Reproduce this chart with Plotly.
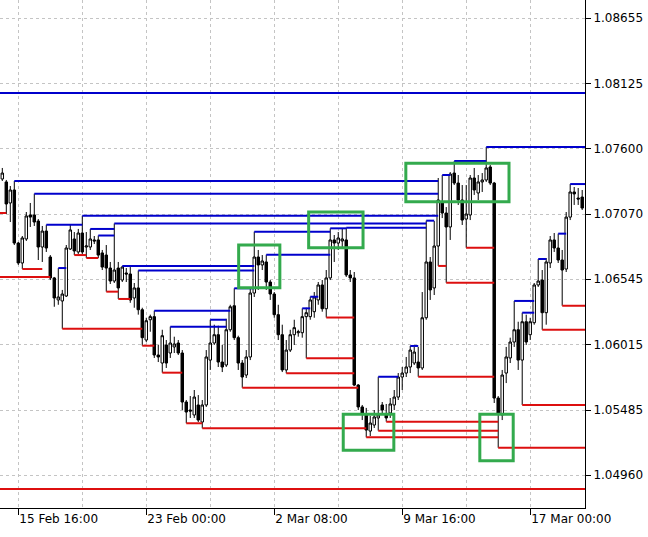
import plotly.graph_objects as go

# ---------------- candle data (H4 bars, index 0..145) ----------------
bars = list(range(146))
opens = [1.07354,1.07330,1.07160,1.07265,1.06836,1.06675,1.06869,1.07063,1.07063,1.07014,
         1.06804,1.06933,1.06723,1.06554,1.06376,1.06368,1.06408,1.06788,1.06869,1.06764,
         1.06917,1.06804,1.06804,1.06861,1.06861,1.06756,1.06739,1.06634,1.06529,1.06634,
         1.06537,1.06594,1.06586,1.06392,1.06473,1.06297,1.06052,1.06216,1.06241,1.05931,
         1.05866,1.06012,1.05947,1.05996,1.06028,1.05947,1.05551,1.05486,1.05446,1.05527,
         1.05389,1.05527,1.05890,1.06028,1.06095,1.05874,1.05850,1.06135,1.06329,1.06071,
         1.05866,1.05769,1.05915,1.06432,1.06723,1.06659,1.06683,1.06521,1.06424,1.06257,
         1.06095,1.05810,1.05971,1.06095,1.06111,1.06111,1.06241,1.06241,1.06281,1.06376,
         1.06497,1.06305,1.06554,1.06861,1.06836,1.06853,1.06861,1.06578,1.06554,1.05688,
         1.05511,1.05446,1.05316,1.05365,1.05422,1.05527,1.05454,1.05462,1.05527,1.05591,
         1.05753,1.05785,1.05834,1.05866,1.05874,1.05826,1.06232,1.06683,1.06473,1.06812,
         1.07168,1.07079,1.06966,1.07402,1.07321,1.07184,1.07030,1.07063,1.07362,1.07241,
         1.07330,1.07346,1.07451,1.07321,1.05583,1.05446,1.05785,1.05907,1.06036,1.06135,
         1.05890,1.06200,1.06095,1.06192,1.06497,1.06537,1.06273,1.06675,1.06861,1.06796,
         1.06699,1.06626,1.07046,1.07249,1.07200,1.07208]
highs = [1.07443,1.07346,1.07297,1.07338,1.06845,1.06893,1.07087,1.07160,1.07235,1.07030,
         1.06974,1.06984,1.06739,1.06562,1.06634,1.06457,1.06820,1.06982,1.06925,1.06950,
         1.07057,1.06925,1.06950,1.06893,1.06897,1.06780,1.06820,1.06683,1.06994,1.06683,
         1.06651,1.06634,1.06642,1.06513,1.06614,1.06313,1.06232,1.06257,1.06289,1.06012,
         1.06135,1.06052,1.06160,1.06079,1.06052,1.05971,1.05567,1.05599,1.05648,1.05607,
         1.05567,1.05971,1.06216,1.06176,1.06168,1.06012,1.06224,1.06337,1.06470,1.06087,
         1.05890,1.05971,1.06473,1.06928,1.06780,1.06739,1.06742,1.06537,1.06440,1.06337,
         1.06176,1.06052,1.06135,1.06216,1.06135,1.06308,1.06313,1.06402,1.06440,1.06521,
         1.06537,1.06618,1.06955,1.06901,1.06925,1.06950,1.06960,1.06618,1.06602,1.05696,
         1.05527,1.05503,1.05438,1.05486,1.05755,1.05551,1.05535,1.05583,1.05648,1.05785,
         1.05834,1.05915,1.06004,1.05996,1.05996,1.06440,1.07017,1.06723,1.07014,1.07362,
         1.07386,1.07127,1.07410,1.07499,1.07386,1.07305,1.07305,1.07386,1.07443,1.07386,
         1.07402,1.07613,1.07467,1.07330,1.05599,1.05810,1.05996,1.06071,1.06368,1.06200,
         1.06273,1.06257,1.06232,1.06513,1.06707,1.06618,1.06715,1.06893,1.06917,1.06912,
         1.06780,1.07087,1.07313,1.07289,1.07281,1.07265]
lows = [1.07338,1.07071,1.07006,1.06820,1.06659,1.06626,1.06853,1.06966,1.06974,1.06699,
        1.06683,1.06764,1.06537,1.06321,1.06337,1.06143,1.06400,1.06780,1.06739,1.06748,
        1.06748,1.06715,1.06780,1.06828,1.06715,1.06618,1.06443,1.06505,1.06513,1.06384,
        1.06521,1.06521,1.06353,1.06313,1.06257,1.06006,1.06036,1.06119,1.05907,1.05874,
        1.05788,1.05826,1.05907,1.05947,1.05931,1.05486,1.05379,1.05422,1.05422,1.05389,
        1.05338,1.05511,1.05810,1.06012,1.05834,1.05793,1.05834,1.06119,1.06052,1.05810,
        1.05666,1.05745,1.05890,1.06400,1.06457,1.06618,1.06457,1.06376,1.06232,1.06052,
        1.05793,1.05783,1.05955,1.06012,1.06079,1.06071,1.05904,1.06216,1.06232,1.06337,
        1.06281,1.06234,1.06537,1.06683,1.06780,1.06788,1.06562,1.06521,1.05680,1.05486,
        1.05405,1.05265,1.05276,1.05341,1.05319,1.05454,1.05392,1.05422,1.05486,1.05567,
        1.05648,1.05753,1.05785,1.05850,1.05755,1.05810,1.06216,1.06376,1.06416,1.06651,
        1.07038,1.06515,1.06861,1.07305,1.07144,1.06982,1.06798,1.07022,1.07225,1.07184,
        1.07249,1.07330,1.07305,1.05543,1.05181,1.05405,1.05704,1.05866,1.05996,1.05810,
        1.05527,1.06012,1.06052,1.06176,1.06481,1.06135,1.06176,1.06634,1.06764,1.06675,
        1.06329,1.06602,1.07022,1.07144,1.07144,1.07103]
closes = [1.07402,1.07152,1.07265,1.06836,1.06675,1.06877,1.07055,1.07046,1.07006,1.06804,
          1.06933,1.06796,1.06554,1.06392,1.06400,1.06424,1.06796,1.06942,1.06772,1.06917,
          1.06764,1.06812,1.06869,1.06853,1.06739,1.06642,1.06634,1.06529,1.06618,1.06473,
          1.06642,1.06586,1.06376,1.06473,1.06297,1.06071,1.06208,1.06241,1.05931,1.05915,
          1.06087,1.05866,1.06028,1.06020,1.05947,1.05551,1.05470,1.05478,1.05591,1.05405,
          1.05527,1.05915,1.06028,1.06095,1.05874,1.05834,1.06135,1.06321,1.06071,1.05866,
          1.05753,1.05915,1.06432,1.06723,1.06659,1.06691,1.06521,1.06424,1.06257,1.06095,
          1.05810,1.05971,1.06095,1.06152,1.06119,1.06241,1.06273,1.06376,1.06400,1.06497,
          1.06305,1.06554,1.06861,1.06836,1.06877,1.06869,1.06578,1.06554,1.05688,1.05511,
          1.05462,1.05324,1.05381,1.05430,1.05446,1.05486,1.05422,1.05535,1.05591,1.05753,
          1.05785,1.05834,1.05971,1.05955,1.05826,1.06232,1.06683,1.06457,1.06812,1.07184,
          1.07079,1.06966,1.07394,1.07321,1.07184,1.07022,1.07071,1.07362,1.07265,1.07330,
          1.07346,1.07443,1.07321,1.05583,1.05462,1.05769,1.05915,1.06036,1.06135,1.05890,
          1.06200,1.06036,1.06200,1.06497,1.06529,1.06273,1.06683,1.06861,1.06796,1.06699,
          1.06618,1.07046,1.07249,1.07233,1.07192,1.07119]

# ---------------- resistance (blue) and support (red) levels ----------------
blue_level = [1.08049,1.07338,1.07235,1.07057,1.06984,1.06950,1.06897,1.06994,1.06651,1.06614,
              1.06634,1.06289,1.06160,1.06216,1.06470,1.06928,1.06742,1.06308,1.06402,1.06955,
              1.06960,1.07017,1.07386,1.07499,1.07613,1.05755,1.06004,1.06368,1.06273,1.06707,
              1.06912,1.07313]
blue_from = [-1,3,8,20,11,22,24,28,30,34,14,38,42,52,58,63,66,75,77,82,86,106,110,113,121,94,102,128,130,134,139,142]
blue_to   = [146,109,109,109,20,28,28,106,63,63,16,57,56,56,63,82,82,77,79,86,106,108,112,121,146,99,104,133,133,136,141,146]

red_level = [1.04847,1.07079,1.06562,1.06626,1.06143,1.06739,1.06715,1.06443,1.06384,1.06006,
             1.05788,1.05379,1.05338,1.05666,1.05783,1.05904,1.06234,1.05265,1.05319,1.05392,
             1.05755,1.06651,1.06515,1.06798,1.05181,1.05527,1.06135,1.06329]
red_from = [-1,-1,-1,5,15,18,21,26,29,35,40,46,50,60,71,76,81,91,94,96,104,109,111,116,124,130,135,140]
red_to   = [146,1,12,10,35,21,24,29,32,38,45,50,91,89,88,88,88,124,124,124,123,111,123,123,146,146,146,146]

# ---------------- highlighted zones ----------------
zone_from = [100.9, 76.6, 59.1, 85.25, 119.4]
zone_to   = [126.7, 90.2, 69.4, 97.9, 127.75]
zone_top  = [1.07481, 1.07087, 1.06820, 1.05451, 1.05451]
zone_bot  = [1.07170, 1.06798, 1.06475, 1.05160, 1.05076]

# ---------------- axis ticks ----------------
price_ticks = [1.08655, 1.08125, 1.07600, 1.07070, 1.06545, 1.06015, 1.05485, 1.04960]
price_labels = ["1.08655", "1.08125", "1.07600", "1.07070", "1.06545", "1.06015", "1.05485", "1.04960"]
time_tick_bars = [4, 36, 68, 100, 132]
time_labels = ["15 Feb 16:00", "23 Feb 00:00", "2 Mar 08:00", "9 Mar 16:00", "17 Mar 00:00"]
minor_grid_bars = [20, 52, 84, 116]


def segments(levels, starts, ends):
    xs, ys = [], []
    for lv, s, e in zip(levels, starts, ends):
        xs += [s, e, None]
        ys += [lv, lv, None]
    return xs, ys


fig = go.Figure()

bx, by = segments(blue_level, blue_from, blue_to)
rx, ry = segments(red_level, red_from, red_to)
fig.add_trace(go.Scatter(x=bx, y=by, mode="lines", line=dict(color="#0000cc", width=2),
                         hoverinfo="skip", showlegend=False))
fig.add_trace(go.Scatter(x=rx, y=ry, mode="lines", line=dict(color="#dd0f0f", width=2),
                         hoverinfo="skip", showlegend=False))

fig.add_trace(go.Candlestick(
    x=bars, open=opens, high=highs, low=lows, close=closes,
    increasing=dict(line=dict(color="black", width=1), fillcolor="white"),
    decreasing=dict(line=dict(color="black", width=1), fillcolor="black"),
    whiskerwidth=0, showlegend=False, hoverinfo="skip"))

for x0, x1, y0, y1 in zip(zone_from, zone_to, zone_top, zone_bot):
    fig.add_shape(type="rect", xref="x", yref="y", x0=x0, x1=x1, y0=y0, y1=y1,
                  line=dict(color="#33aa4d", width=3), fillcolor="rgba(0,0,0,0)")

fig.update_layout(
    width=648, height=537,
    margin=dict(l=0, r=63, t=0, b=29),
    paper_bgcolor="white", plot_bgcolor="white",
    font=dict(family="DejaVu Sans", size=12, color="black"),
    showlegend=False,
    boxgap=0.12,
    xaxis=dict(
        range=[-0.575, 145.7], rangeslider=dict(visible=False),
        tickmode="array", tickvals=time_tick_bars, ticktext=time_labels,
        ticks="outside", ticklen=6, tickcolor="black", ticklabelposition="outside right",
        showgrid=True, gridcolor="#c4c4c4", griddash="3px,3px", gridwidth=1,
        minor=dict(tickmode="array", tickvals=minor_grid_bars, showgrid=True,
                   gridcolor="#c4c4c4", griddash="3px,3px", ticks=""),
        showline=True, linecolor="black", linewidth=1, zeroline=False,
        tickfont=dict(family="DejaVu Sans", size=12, color="black"),
    ),
    yaxis=dict(
        range=[1.04694, 1.08801], side="right",
        tickmode="array", tickvals=price_ticks, ticktext=price_labels,
        ticks="outside", ticklen=5, tickcolor="black",
        showgrid=True, gridcolor="#c4c4c4", griddash="3px,3px", gridwidth=1,
        showline=True, linecolor="black", linewidth=1, zeroline=False,
        tickfont=dict(family="DejaVu Sans", size=12, color="black"),
    ),
)

fig.write_html("out.html", config={"displayModeBar": False},
               post_script="document.body.style.margin='0';document.body.style.padding='0';")
